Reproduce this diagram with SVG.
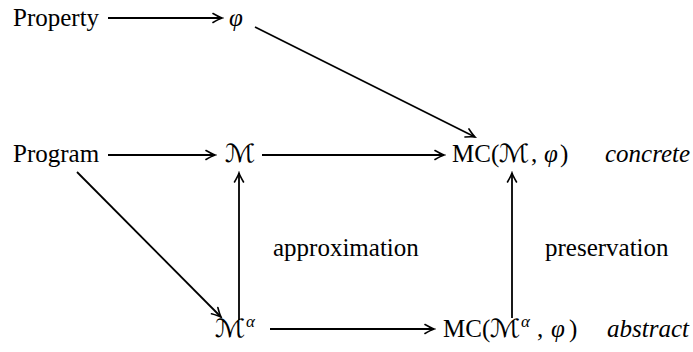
<svg xmlns="http://www.w3.org/2000/svg" width="693" height="352" viewBox="0 0 693 352">
<style>
text{font-family:"Liberation Serif","DejaVu Serif",serif;font-size:25px;fill:#000}
.i{font-style:italic}
.cal{font-family:"DejaVu Sans","Liberation Serif",serif;font-style:normal;font-size:25px}
.sup{font-size:17px;font-style:italic}
.edge{stroke:#000;stroke-width:1.8;fill:none;marker-end:url(#ah)}
</style>
<defs>
<marker id="ah" viewBox="-10 -6 12 12" refX="0" refY="0" markerWidth="12" markerHeight="12" markerUnits="userSpaceOnUse" orient="auto">
<path d="M-9,-4.5 Q-3,-1 0,0 Q-3,1 -9,4.5" fill="none" stroke="#000" stroke-width="1.6" stroke-linecap="round"/>
</marker>
</defs>
<g id="connectors">
<line class="edge" x1="108" y1="18" x2="222" y2="18"/>
<line class="edge" x1="255" y1="27" x2="475" y2="137"/>
<line class="edge" x1="108" y1="155" x2="215" y2="155"/>
<line class="edge" x1="262" y1="155" x2="444" y2="155"/>
<line class="edge" x1="239" y1="320" x2="239" y2="173"/>
<line class="edge" x1="512" y1="318" x2="512" y2="173"/>
<line class="edge" x1="77" y1="172" x2="221" y2="317"/>
<line class="edge" x1="270" y1="329" x2="434" y2="329"/>
</g>
<g id="property"><text x="13" y="26">Property</text></g>
<g id="phi"><text x="229" y="26" class="i">φ</text></g>
<g id="program"><text x="13" y="162">Program</text></g>
<g id="M"><text class="cal" transform="translate(225,162) scale(1.15,1)">ℳ</text></g>
<g id="MC">
<text x="452" y="162">MC(</text>
<text class="cal" transform="translate(499,162) scale(1.15,1)">ℳ</text>
<text x="531" y="162">,</text>
<text x="544" y="162" class="i">φ</text>
<text x="560" y="162">)</text>
</g>
<g id="concrete"><text x="605" y="162" class="i">concrete</text></g>
<g id="approximation"><text x="273" y="256">approximation</text></g>
<g id="preservation"><text x="545" y="256">preservation</text></g>
<g id="Malpha">
<text class="cal" transform="translate(215,337) scale(1.15,1)">ℳ</text>
<text class="sup" x="246" y="327">α</text>
</g>
<g id="MCalpha">
<text x="443" y="337">MC(</text>
<text class="cal" transform="translate(490,337) scale(1.15,1)">ℳ</text>
<text class="sup" x="521" y="327">α</text>
<text x="537" y="337">,</text>
<text x="551" y="337" class="i">φ</text>
<text x="569" y="337">)</text>
</g>
<g id="abstract"><text x="607" y="337" class="i">abstract</text></g>
</svg>
